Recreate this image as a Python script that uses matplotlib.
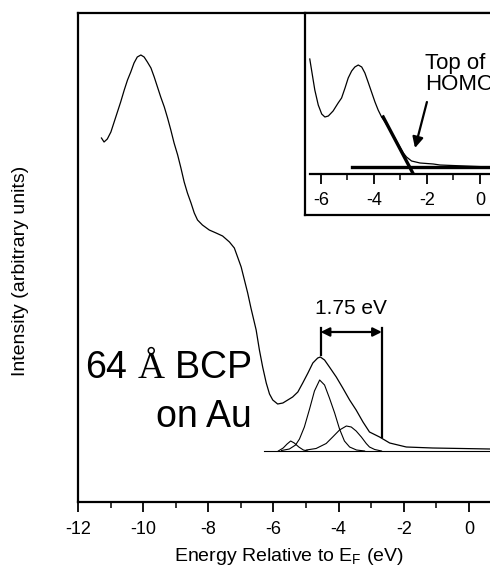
import matplotlib
matplotlib.use('Agg')
import matplotlib.pyplot as plt
from matplotlib.ticker import MultipleLocator

plt.rcParams['font.family'] = ['Liberation Sans', 'DejaVu Sans']
plt.rcParams['mathtext.fontset'] = 'custom'
plt.rcParams['mathtext.rm'] = 'Liberation Serif'
plt.rcParams['mathtext.default'] = 'regular'
plt.rcParams['axes.unicode_minus'] = False

# 主谱线 (energy eV, intensity a.u.)
main_x = [-11.28, -11.20, -11.10, -10.99, -10.89, -10.79, -10.69, -10.58, -10.48, -10.38,
          -10.28, -10.18, -10.07, -9.97, -9.87, -9.76, -9.66, -9.56, -9.46, -9.35,
          -9.25, -9.15, -9.05, -8.94, -8.84, -8.74, -8.64, -8.53, -8.43, -8.33,
          -8.18, -7.97, -7.76, -7.56, -7.35, -7.20, -7.10, -6.99, -6.89, -6.79,
          -6.69, -6.53, -6.43, -6.33, -6.22, -6.12, -6.02, -5.87, -5.71, -5.56,
          -5.41, -5.25, -5.10, -4.94, -4.79, -4.64, -4.56, -4.43, -4.28, -4.07,
          -3.87, -3.66, -3.46, -3.25, -3.05, -2.74, -2.43, -1.92, -1.11, 0.65]
main_y = [31.3, 30.9, 31.2, 31.9, 32.9, 33.9, 34.9, 36.1, 37.1, 37.9,
          38.8, 39.4, 39.6, 39.4, 38.9, 38.3, 37.4, 36.4, 35.4, 34.4,
          33.3, 32.1, 30.8, 29.6, 28.3, 26.9, 25.8, 24.8, 23.8, 23.1,
          22.6, 22.1, 21.8, 21.5, 20.9, 20.3, 19.4, 18.4, 17.1, 15.8,
          14.3, 12.1, 10.1, 8.4, 6.8, 5.7, 5.1, 4.7, 4.8, 5.1,
          5.4, 5.9, 6.8, 7.8, 8.8, 9.3, 9.4, 9.1, 8.4, 7.4,
          6.3, 5.1, 4.1, 2.9, 1.9, 1.4, 0.8, 0.4, 0.3, 0.2]

# 拟合分量
comp1_x = [-5.75, -5.51, -5.32, -5.20, -5.05, -4.89, -4.74, -4.58, -4.43, -4.28,
           -4.12, -3.97, -3.82, -3.66, -3.45, -3.20]
comp1_y = [0.05, 0.2, 0.6, 1.2, 2.4, 4.2, 6.0, 7.1, 6.6, 5.3,
           3.8, 2.2, 1.0, 0.4, 0.1, 0.0]
comp2_x = [-5.85, -5.70, -5.58, -5.47, -5.36, -5.22, -5.08, -4.95]
comp2_y = [0.0, 0.3, 0.7, 1.0, 0.8, 0.4, 0.1, 0.0]
comp3_x = [-4.99, -4.69, -4.38, -4.18, -3.97, -3.76, -3.61, -3.46, -3.30, -3.15,
           -3.05, -2.89, -2.68]
comp3_y = [0.1, 0.25, 0.75, 1.4, 2.1, 2.5, 2.4, 2.0, 1.4, 0.75,
           0.4, 0.15, 0.0]
base_x = [-6.28, 0.65]
base_y = [0.0, 0.0]

# 1.75 eV 标注
peak_e = -4.55
homo_e = -2.67
peak_h = 9.6
homo_h = 1.4
bar_top = 12.3
arrow_h = 11.9

# 插图数据
ins_x = [-6.42, -6.31, -6.23, -6.10, -5.97, -5.85, -5.72, -5.54, -5.35, -5.22,
         -5.09, -4.97, -4.84, -4.72, -4.59, -4.46, -4.34, -4.22, -4.09, -3.96,
         -3.84, -3.71, -3.58, -3.40, -3.21, -3.02, -2.89, -2.77, -2.58, -2.26,
         -1.76, -1.51, 0.38]
ins_y = [11.5, 9.7, 8.4, 6.9, 6.0, 5.7, 5.8, 6.3, 7.1, 7.6,
         8.6, 9.6, 10.3, 10.7, 10.9, 10.7, 10.1, 9.2, 8.2, 7.2,
         6.4, 5.7, 5.2, 4.4, 3.6, 2.7, 2.1, 1.7, 1.3, 1.1,
         1.0, 0.9, 0.7]
tan_x = [-3.65, -2.54]
tan_y = [5.7, 0.13]
bg_x = [-4.84, 0.4]
bg_y = [0.67, 0.67]

fig = plt.figure(figsize=(4.9, 5.69), dpi=100)
ax = fig.add_axes([78 / 490, 67 / 569, 412 / 490, 489 / 569])

ax.plot(main_x, main_y, color='black', lw=0.9)
for cx, cy in [(comp1_x, comp1_y), (comp2_x, comp2_y), (comp3_x, comp3_y), (base_x, base_y)]:
    ax.plot(cx, cy, color='black', lw=0.8)

ax.plot([peak_e, peak_e], [peak_h, bar_top], color='black', lw=1.6)
ax.plot([homo_e, homo_e], [homo_h, bar_top], color='black', lw=1.6)
ax.annotate('', xy=(homo_e, arrow_h), xytext=(peak_e, arrow_h),
            arrowprops=dict(arrowstyle='<|-|>', color='black', lw=1.6,
                            mutation_scale=13, shrinkA=0, shrinkB=0))
ax.text((peak_e + homo_e) / 2, 14.2, '1.75 eV', ha='center', va='center', fontsize=15)
ax.text(-6.65, 8.3, r'64 $\mathrm{Å}$ BCP', ha='right', va='center', fontsize=27)
ax.text(-6.65, 3.4, 'on Au', ha='right', va='center', fontsize=27)

ax.set_xlim(-12, 0.65)
ax.set_ylim(-5.1, 43.8)
ax.xaxis.set_major_locator(MultipleLocator(2))
ax.xaxis.set_minor_locator(MultipleLocator(1))
ax.tick_params(axis='x', which='major', direction='out', length=7, width=1.3, pad=7, labelsize=13)
ax.tick_params(axis='x', which='minor', direction='out', length=4, width=1.1)
ax.set_yticks([])
ax.spines['right'].set_visible(False)
for s in ['left', 'bottom', 'top']:
    ax.spines[s].set_linewidth(1.6)
ax.set_xlabel('Energy Relative to E$_F$ (eV)', fontsize=14)
ax.xaxis.set_label_coords(0.513, -0.09)
ax.set_ylabel('Intensity (arbitrary units)', fontsize=14)
ax.yaxis.set_label_coords(-0.118, 0.472)

# 插图
ax2 = fig.add_axes([305 / 490, 354 / 569, 185 / 490, 202 / 569])
ax2.plot(ins_x, ins_y, color='black', lw=0.9)
ax2.plot(tan_x, tan_y, color='black', lw=2.4)
ax2.plot(bg_x, bg_y, color='black', lw=2.4)
ax2.annotate('', xy=(-2.45, 2.6), xytext=(-2.0, 7.2),
             arrowprops=dict(arrowstyle='-|>', color='black', lw=1.6,
                             mutation_scale=16, shrinkA=0, shrinkB=0))
ax2.text(-2.08, 10.0, 'Top of\nHOMO', ha='left', va='center', fontsize=16, linespacing=1.05)

ax2.set_xlim(-6.6, 0.38)
ax2.set_ylim(-4.1, 16.1)
ax2.xaxis.set_major_locator(MultipleLocator(2))
ax2.xaxis.set_minor_locator(MultipleLocator(1))
ax2.tick_params(axis='x', which='major', direction='out', length=7, width=1.3, pad=6, labelsize=13)
ax2.tick_params(axis='x', which='minor', direction='out', length=4, width=1.1)
ax2.set_yticks([])
ax2.spines['right'].set_visible(False)
ax2.spines['bottom'].set_position(('data', 0))
ax2.spines['bottom'].set_bounds(-6.42, 0.38)
for s in ['left', 'bottom', 'top']:
    ax2.spines[s].set_linewidth(1.6)
ax2.plot([0, 1], [0, 0], transform=ax2.transAxes, color='black', lw=1.6, clip_on=False)

fig.savefig('out.png', dpi=100)
